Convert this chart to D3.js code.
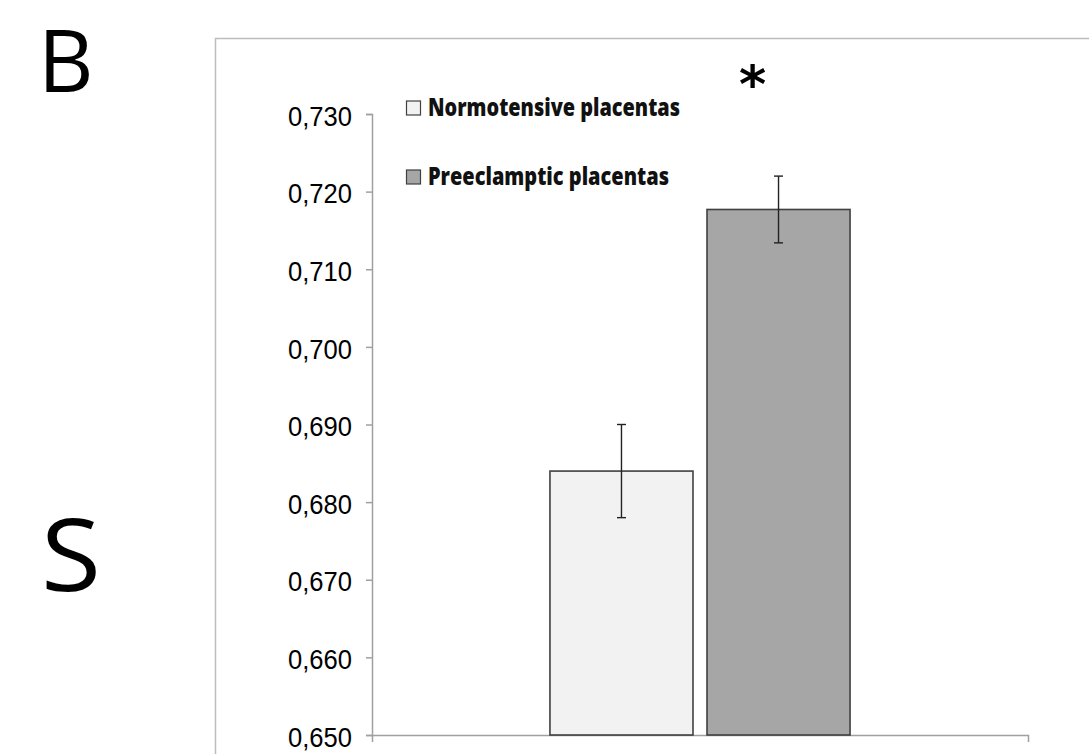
<!DOCTYPE html>
<html>
<head>
<meta charset="utf-8">
<script src="https://cdn.jsdelivr.net/npm/d3@7"></script>
<style>
  html, body { margin: 0; padding: 0; background: #fff; }
  svg { display: block; }
</style>
</head>
<body>
<svg id="chart" width="1089" height="754"></svg>
<script>
// ---- data ----
const groups = ["All"];
const categories = ["Normotensive placentas", "Preeclamptic placentas"];
const means = [0.684, 0.7177];
const errors = [0.006, 0.0043];
const fills = ["#f2f2f2", "#a6a6a6"];
const yTicks = [0.650, 0.660, 0.670, 0.680, 0.690, 0.700, 0.710, 0.720, 0.730];
const significant = [false, true];
const panelLetters = ["B", "S"];

const svg = d3.select("#chart");

// panel frame
svg.append("rect")
  .attr("x", 215.5).attr("y", 38.5)
  .attr("width", 1000).attr("height", 800)
  .attr("fill", "none").attr("stroke", "#bdbdbd").attr("stroke-width", 1.5);

// panel letters
svg.append("text").text(panelLetters[0])
  .attr("x", 38).attr("y", 92)
  .attr("font-family", "Open Sans, Noto Sans, sans-serif")
  .attr("font-size", 86).attr("fill", "#000");
svg.append("text").text(panelLetters[1])
  .attr("x", 41).attr("y", 591)
  .attr("font-family", "Open Sans, Noto Sans, sans-serif")
  .attr("font-size", 100).attr("fill", "#000")
  .attr("textLength", 60).attr("lengthAdjust", "spacingAndGlyphs");

// scales
const y = d3.scaleLinear().domain([0.650, 0.730]).range([735, 114]);
const x0 = d3.scaleBand().domain(groups).range([372, 1028])
  .paddingInner(0).paddingOuter(0.593);
const x1 = d3.scaleBand().domain(categories).range([0, x0.bandwidth()])
  .paddingInner(0.0892).paddingOuter(0);

const fmt = v => d3.format(".3f")(v).replace(".", ",");

// y axis
const yAxis = svg.append("g")
  .attr("transform", "translate(372,0)")
  .call(d3.axisLeft(y).tickValues(yTicks).tickFormat(fmt)
    .tickSize(6).tickSizeOuter(6).tickPadding(14));
yAxis.selectAll("path, line").attr("stroke", "#a0a0a0").attr("stroke-width", 1.5);
yAxis.selectAll("text")
  .attr("font-family", "Liberation Sans, Arial, sans-serif")
  .attr("font-size", 28).attr("fill", "#000")
  .attr("dy", "0.40em")
  .attr("textLength", 64).attr("lengthAdjust", "spacingAndGlyphs");

// x axis
const xAxis = svg.append("g")
  .attr("transform", "translate(0,735)")
  .call(d3.axisBottom(x0).tickSize(0).tickSizeOuter(7).tickFormat(() => ""));
xAxis.selectAll("path, line").attr("stroke", "#a0a0a0").attr("stroke-width", 1.5);

// bars
const data = categories.map((c, i) => ({ c, m: means[i], e: errors[i], f: fills[i], s: significant[i] }));
const g = svg.append("g").attr("transform", `translate(${x0(groups[0])},0)`);

g.selectAll("rect.bar").data(data).join("rect")
  .attr("class", "bar")
  .attr("x", d => x1(d.c))
  .attr("y", d => y(d.m))
  .attr("width", x1.bandwidth())
  .attr("height", d => y(0.650) - y(d.m))
  .attr("fill", d => d.f)
  .attr("stroke", "#404040").attr("stroke-width", 1.6);

// error bars
const eb = g.selectAll("g.err").data(data).join("g").attr("class", "err");
eb.append("line")
  .attr("x1", d => x1(d.c) + x1.bandwidth() / 2)
  .attr("x2", d => x1(d.c) + x1.bandwidth() / 2)
  .attr("y1", d => y(d.m + d.e)).attr("y2", d => y(d.m - d.e))
  .attr("stroke", "#222").attr("stroke-width", 1.4);
[1, -1].forEach(sgn => {
  eb.append("line")
    .attr("x1", d => x1(d.c) + x1.bandwidth() / 2 - 4.5)
    .attr("x2", d => x1(d.c) + x1.bandwidth() / 2 + 4.5)
    .attr("y1", d => y(d.m + sgn * d.e)).attr("y2", d => y(d.m + sgn * d.e))
    .attr("stroke", "#222").attr("stroke-width", 1.4);
});

// significance asterisk
g.selectAll("text.sig").data(data.filter(d => d.s)).join("text")
  .attr("class", "sig")
  .attr("x", d => x1(d.c) + x1.bandwidth() / 2 - 26)
  .attr("y", 102)
  .attr("text-anchor", "middle")
  .attr("font-family", "DejaVu Sans, sans-serif")
  .attr("font-weight", "bold")
  .attr("font-size", 52)
  .text("*");

// legend
const legendBase = [116, 185];
const legendLen = [252, 241];
const lg = svg.append("g");
categories.forEach((c, i) => {
  lg.append("rect")
    .attr("x", 406.5).attr("y", legendBase[i] - 15)
    .attr("width", 14).attr("height", 14)
    .attr("fill", fills[i]).attr("stroke", "#404040").attr("stroke-width", 1.2);
  lg.append("text")
    .attr("x", 428).attr("y", legendBase[i])
    .attr("font-family", "Open Sans, Noto Sans, sans-serif")
    .attr("font-weight", 800)
    .attr("font-size", 24)
    .attr("textLength", legendLen[i])
    .attr("lengthAdjust", "spacingAndGlyphs")
    .attr("fill", "#111")
    .text(c);
});
</script>
</body>
</html>
